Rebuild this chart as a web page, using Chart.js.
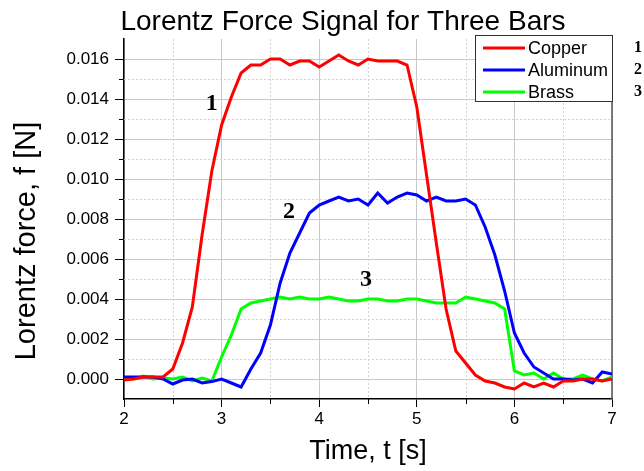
<!DOCTYPE html>
<html>
<head>
<meta charset="utf-8">
<script src="https://cdn.jsdelivr.net/npm/chart.js@4.4.0/dist/chart.umd.min.js"></script>
<style>
  html, body { margin: 0; padding: 0; background: #fff; }
  canvas { display: block; }
</style>
</head>
<body>
<canvas id="lorentzChart" width="644" height="471"></canvas>
<script>
// Sample times [s]
const times = [2.0, 2.1, 2.2, 2.3, 2.4, 2.5, 2.6, 2.7, 2.8, 2.9,
               3.0, 3.1, 3.2, 3.3, 3.4, 3.5, 3.6, 3.7, 3.8, 3.9,
               4.0, 4.1, 4.2, 4.3, 4.4, 4.5, 4.6, 4.7, 4.8, 4.9,
               5.0, 5.1, 5.2, 5.3, 5.4, 5.5, 5.6, 5.7, 5.8, 5.9,
               6.0, 6.1, 6.2, 6.3, 6.4, 6.5, 6.6, 6.7, 6.8, 6.9, 7.0];

// Lorentz force [N]
const copper = [-0.00005, 0.0000, 0.0001, 0.0001, 0.0001, 0.0005, 0.0018, 0.0036, 0.0072, 0.0104,
                0.0127, 0.0141, 0.0153, 0.0157, 0.0157, 0.0160, 0.0160, 0.0157, 0.0159, 0.0159,
                0.0156, 0.0159, 0.0162, 0.0159, 0.0157, 0.0160, 0.0159, 0.0159, 0.0159, 0.0157,
                0.0136, 0.0102, 0.0068, 0.0035, 0.0014, 0.0008, 0.0002, -0.0001, -0.0002, -0.0004,
                -0.0005, -0.0002, -0.0004, -0.0002, -0.0004, -0.0001, -0.0001, 0.0000, 0.0000, -0.0001, 0.0000];

const aluminum = [0.0001, 0.0001, 0.0001, 0.0001, 0.0000, -0.00025, -0.00005, 0.0000, -0.0002, -0.00013,
                  0.0000, -0.0002, -0.0004, 0.0005, 0.0013, 0.0027, 0.0048, 0.0063, 0.0073, 0.0083,
                  0.0087, 0.0089, 0.0091, 0.0089, 0.0090, 0.0087, 0.0093, 0.0088, 0.0091, 0.0093,
                  0.0092, 0.0089, 0.0091, 0.0089, 0.0089, 0.0090, 0.0087, 0.0076, 0.0062, 0.0044,
                  0.0023, 0.0013, 0.0006, 0.0003, 0.0000, 0.0000, -0.00005, 0.0000, -0.0002, 0.00035, 0.00025];

const brass = [0.0000, 0.0000, 0.00015, 0.0000, 0.00005, 0.0000, 0.0001, -0.0001, 0.00005, -0.0001,
               0.0011, 0.0022, 0.0035, 0.0038, 0.0039, 0.0040, 0.0041, 0.0040, 0.0041, 0.0040,
               0.0040, 0.0041, 0.0040, 0.0039, 0.0039, 0.0040, 0.0040, 0.0039, 0.0039, 0.0040,
               0.0040, 0.0039, 0.0038, 0.0038, 0.0038, 0.0041, 0.0040, 0.0039, 0.0038, 0.0035,
               0.0004, 0.0002, 0.0003, 0.0000, 0.0003, 0.0000, 0.0000, 0.0002, 0.0000, -0.0001, 0.0001];

const seriesNames = ['Copper', 'Aluminum', 'Brass'];
const seriesColors = ['#ff0000', '#0000ff', '#00ff00'];
const seriesData = [copper, aluminum, brass];

const xTicks = [2, 3, 4, 5, 6, 7];
const xMinor = [2.5, 3.5, 4.5, 5.5, 6.5];
const yTicks = [0, 0.002, 0.004, 0.006, 0.008, 0.010, 0.012, 0.014, 0.016];
const yMinor = [0.001, 0.003, 0.005, 0.007, 0.009, 0.011, 0.013, 0.015];

// curve numbers inside the plot, in data coordinates [t, f]
const curveTags = ['1', '2', '3'];
const curveTagPos = [[2.90, 0.01375], [3.69, 0.00835], [4.48, 0.00495]];

Chart.defaults.font.family = "'Liberation Sans', Arial, sans-serif";
Chart.defaults.color = '#000';

function line(ctx, x1, y1, x2, y2) {
    ctx.beginPath();
    ctx.moveTo(x1, y1);
    ctx.lineTo(x2, y2);
    ctx.stroke();
}

const decor = {
    id: 'decor',
    beforeDatasetsDraw(chart) {
        const { ctx, chartArea: a, scales: { x, y } } = chart;
        ctx.save();
        // dotted minor grid
        ctx.strokeStyle = '#d4d4d4';
        ctx.lineWidth = 1;
        ctx.setLineDash([2, 2]);
        xMinor.forEach(v => {
            const px = Math.round(x.getPixelForValue(v)) + 0.5;
            line(ctx, px, a.top, px, a.bottom);
        });
        yMinor.forEach(v => {
            const py = Math.round(y.getPixelForValue(v)) + 0.5;
            line(ctx, a.left, py, a.right, py);
        });
        ctx.setLineDash([]);
        // minor tick marks
        ctx.strokeStyle = '#000';
        xMinor.forEach(v => {
            const px = Math.round(x.getPixelForValue(v)) + 0.5;
            line(ctx, px, a.bottom, px, a.bottom + 5);
        });
        yMinor.forEach(v => {
            const py = Math.round(y.getPixelForValue(v)) + 0.5;
            line(ctx, a.left - 5, py, a.left, py);
        });
        // right frame line
        ctx.strokeStyle = '#555';
        ctx.lineWidth = 1.5;
        line(ctx, a.right, a.top, a.right, a.bottom);
        ctx.restore();
    },
    afterDraw(chart) {
        const { ctx, scales: { x, y } } = chart;
        ctx.save();
        ctx.fillStyle = '#000';

        // title
        ctx.font = "28px 'Liberation Sans', Arial, sans-serif";
        ctx.textAlign = 'center';
        ctx.textBaseline = 'alphabetic';
        ctx.fillText('Lorentz Force Signal for Three Bars', 343, 30);

        // y axis title
        ctx.save();
        ctx.font = "29px 'Liberation Sans', Arial, sans-serif";
        ctx.translate(27, 241);
        ctx.rotate(-Math.PI / 2);
        ctx.textBaseline = 'middle';
        ctx.fillText('Lorentz force, f [N]', 0, 0);
        ctx.restore();

        // curve numbers
        ctx.font = "bold 24px 'Liberation Serif', 'Times New Roman', serif";
        ctx.textBaseline = 'middle';
        curveTags.forEach((tag, i) => {
            ctx.fillText(tag, x.getPixelForValue(curveTagPos[i][0]), y.getPixelForValue(curveTagPos[i][1]));
        });

        // legend box
        const lx = 475.5, ly = 35.5, lw = 137, lh = 66;
        ctx.fillStyle = '#fff';
        ctx.fillRect(lx, ly, lw, lh);
        ctx.strokeStyle = '#333';
        ctx.lineWidth = 1;
        ctx.strokeRect(lx, ly, lw, lh);
        ctx.font = "18px 'Liberation Sans', Arial, sans-serif";
        ctx.textAlign = 'left';
        chart.data.datasets.forEach((ds, i) => {
            const ry = 48 + i * 22;
            ctx.strokeStyle = ds.borderColor;
            ctx.lineWidth = 3;
            line(ctx, 483, ry, 525, ry);
            ctx.fillStyle = '#000';
            ctx.fillText(ds.label, 528, ry + 1);
            // matching number to the right of the frame
            ctx.save();
            ctx.font = "bold 16px 'Liberation Serif', 'Times New Roman', serif";
            ctx.textAlign = 'center';
            ctx.fillText(curveTags[i], 638, ry);
            ctx.restore();
        });
        ctx.restore();
    }
};

new Chart(document.getElementById('lorentzChart'), {
    type: 'line',
    data: {
        datasets: seriesNames.map((name, i) => ({
            label: name,
            data: seriesData[i].map((v, j) => ({ x: times[j], y: v })),
            borderColor: seriesColors[i],
            backgroundColor: seriesColors[i],
            borderWidth: 3,
            pointRadius: 0,
            tension: 0
        }))
    },
    options: {
        responsive: false,
        animation: false,
        devicePixelRatio: 1,
        layout: { padding: { top: 39, right: 32, left: 0, bottom: 0 } },
        plugins: {
            legend: { display: false },
            title: { display: false },
            tooltip: { enabled: false }
        },
        scales: {
            x: {
                type: 'linear',
                min: 2,
                max: 7,
                afterBuildTicks: s => { s.ticks = xTicks.map(v => ({ value: v })); },
                afterFit: s => { s.height = 72; },
                ticks: { font: { size: 17 }, color: '#000', padding: 2, callback: v => v },
                grid: { color: '#c8c8c8', tickColor: '#000', tickLength: 8 },
                border: { color: '#000', width: 1.5 },
                title: {
                    display: true,
                    text: 'Time, t [s]',
                    color: '#000',
                    font: { size: 27 },
                    padding: { top: 0, bottom: 3 }
                }
            },
            y: {
                min: -0.001,
                max: 0.017,
                afterBuildTicks: s => { s.ticks = yTicks.map(v => ({ value: v })); },
                afterFit: s => { s.width = 124; },
                ticks: { font: { size: 17 }, color: '#000', padding: 6, callback: v => v.toFixed(3) },
                grid: { color: '#c8c8c8', tickColor: '#000', tickLength: 9 },
                border: { color: '#000', width: 1.5 }
            }
        }
    },
    plugins: [decor]
});
</script>
</body>
</html>
